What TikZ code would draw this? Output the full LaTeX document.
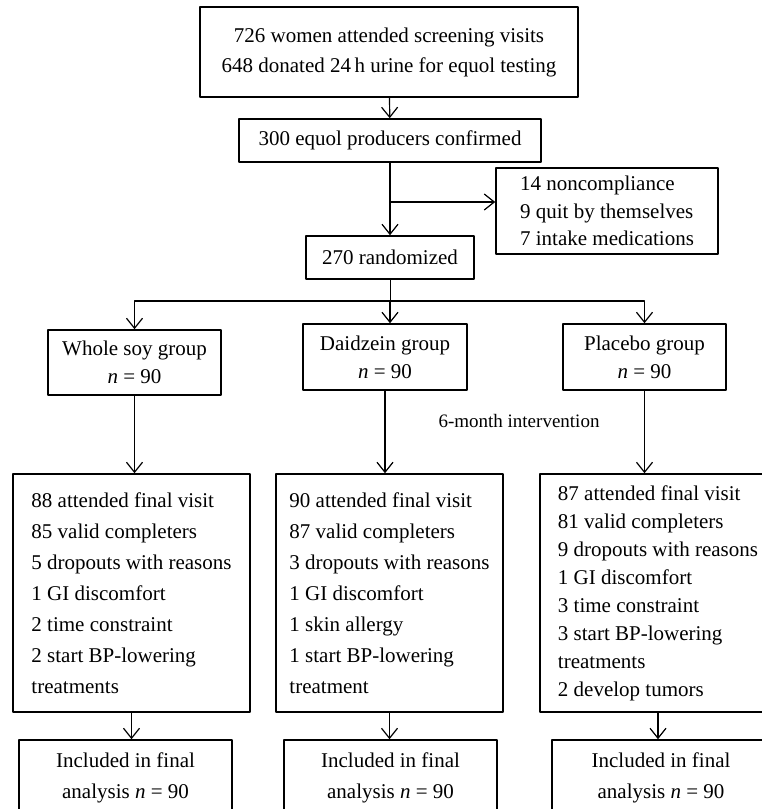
\documentclass[tikz,border=0pt]{standalone}
\usepackage{fontspec}
\setmainfont{Liberation Serif}
\usetikzlibrary{arrows.meta}
\begin{document}
\begin{tikzpicture}[x=0.5pt, y=-0.5pt, line join=round,
  box/.style={draw, line width=0.8pt, inner sep=0pt, font=\fontsize{10.5pt}{15pt}\selectfont},
  arr/.style={-{Straight Barb[length=5pt,width=8pt]}, line width=0.6pt}]
\useasboundingbox (0,0) rectangle (761,809);
% screening and randomization
\node[box, align=center, minimum width=189pt, minimum height=45pt] (screen) at (389,52)
  {726 women attended screening visits\\648 donated 24\,h urine for equol testing};
\node[box, minimum width=151pt, minimum height=21.5pt] (prod) at (390,140.5) {300 equol producers confirmed};
\node[box, align=left, minimum width=111pt, minimum height=43pt, font=\fontsize{10.5pt}{13.75pt}\selectfont] (excl) at (607,211)
  {14 noncompliance\\9 quit by themselves\\7 intake medications};
\node[box, minimum width=84pt, minimum height=21.5pt] (rand) at (390,257.5) {270 randomized};
% groups
\node[box, align=center, minimum width=86.5pt, minimum height=32.5pt, font=\fontsize{10.5pt}{14pt}\selectfont] (soy) at (134.5,362.5)
  {Whole soy group\\\textit{n} = 90};
\node[box, align=center, minimum width=82pt, minimum height=33pt, font=\fontsize{10.5pt}{14pt}\selectfont] (daid) at (385,357)
  {Daidzein group\\\textit{n} = 90};
\node[box, align=center, minimum width=81.5pt, minimum height=33pt, font=\fontsize{10.5pt}{14pt}\selectfont] (plac) at (644.5,357)
  {Placebo group\\\textit{n} = 90};
\node[font=\fontsize{9.5pt}{14pt}\selectfont] (interv) at (519,421) {6-month intervention};
% follow-up
\node[box, align=left, minimum width=118.5pt, minimum height=119pt, font=\fontsize{10.5pt}{15.5pt}\selectfont] (soyres) at (131.5,593)
  {88 attended final visit\\85 valid completers\\5 dropouts with reasons\\1 GI discomfort\\2 time constraint\\2 start BP-lowering\\treatments};
\node[box, align=left, minimum width=113.5pt, minimum height=119pt, font=\fontsize{10.5pt}{15.5pt}\selectfont] (daidres) at (389.5,593)
  {90 attended final visit\\87 valid completers\\3 dropouts with reasons\\1 GI discomfort\\1 skin allergy\\1 start BP-lowering\\treatment};
\node[box, align=left, minimum width=118pt, minimum height=119pt, font=\fontsize{10.5pt}{14pt}\selectfont] (placres) at (658,593)
  {87 attended final visit\\81 valid completers\\9 dropouts with reasons\\1 GI discomfort\\3 time constraint\\3 start BP-lowering\\treatments\\2 develop tumors};
% analysis
\node[box, align=center, minimum width=106.5pt, minimum height=37.5pt, font=\fontsize{10.5pt}{15.5pt}\selectfont] (soyfin) at (125.5,777.5)
  {Included in final\\analysis \textit{n} = 90};
\node[box, align=center, minimum width=106.5pt, minimum height=37.5pt, font=\fontsize{10.5pt}{15.5pt}\selectfont] (daidfin) at (390.5,777.5)
  {Included in final\\analysis \textit{n} = 90};
\node[box, align=center, minimum width=109pt, minimum height=37.5pt, font=\fontsize{10.5pt}{15.5pt}\selectfont] (placfin) at (661,777.5)
  {Included in final\\analysis \textit{n} = 90};
% arrows
\coordinate (branch) at (390,202);
\coordinate (fork) at (390,301);
\draw[arr] (screen) -- (prod);
\draw[arr] (prod) -- (rand);
\draw[arr] (branch) -- (branch -| excl.west);
\draw (rand) -- (fork);
\draw[arr] (fork) -| (soy);
\draw[arr] (fork) -| (plac);
\draw[arr] (fork) -- (fork |- daid.north);
\draw[arr] (soy) -- (soy |- soyres.north);
\draw[arr] (daid) -- (daid |- daidres.north);
\draw[arr] (plac) -- (plac |- placres.north);
\draw[arr] (soyres) -- (soyres |- soyfin.north);
\draw[arr] (daidres) -- (daidres |- daidfin.north);
\draw[arr] (placres) -- (placres |- placfin.north);
\end{tikzpicture}
\end{document}
